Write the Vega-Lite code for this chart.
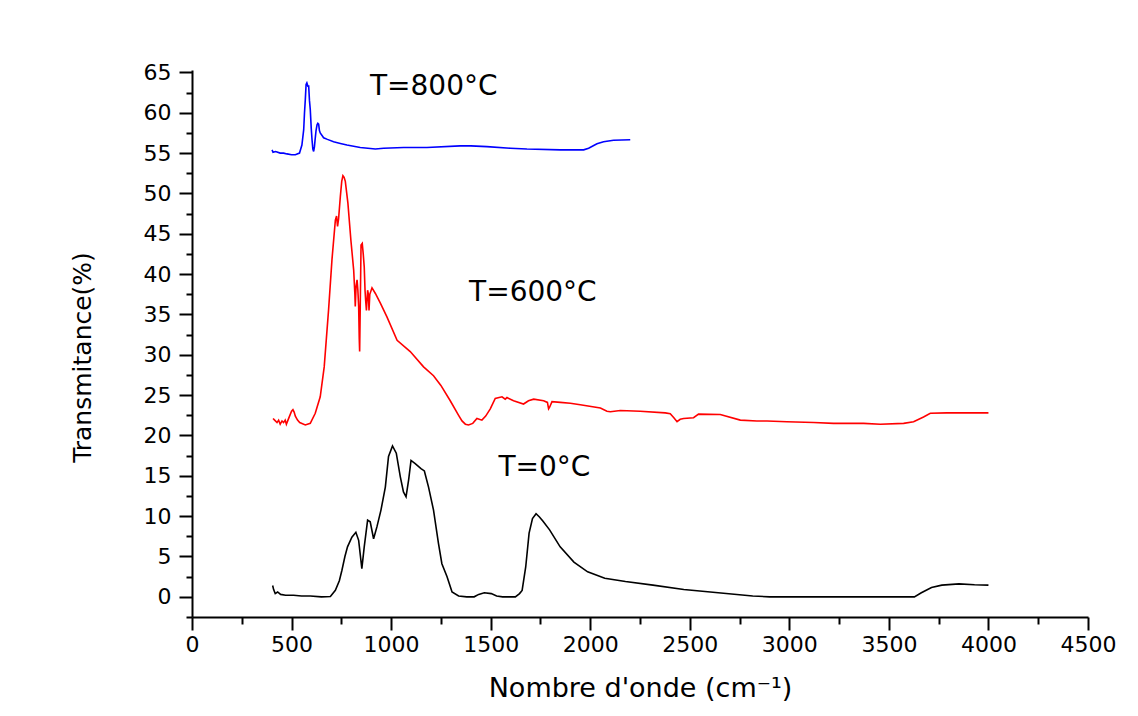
{
  "$schema": "https://vega.github.io/schema/vega-lite/v6.json",
  "width": 896,
  "height": 547,
  "autosize": "none",
  "padding": {"left": 192, "top": 70, "right": 50, "bottom": 99},
  "background": "white",
  "config": {
    "view": {"stroke": null},
    "font": "DejaVu Sans",
    "axis": {
      "domainColor": "black", "domainWidth": 2, "tickColor": "black", "tickWidth": 2,
      "labelColor": "black", "titleColor": "black", "grid": false,
      "labelFont": "DejaVu Sans", "titleFont": "DejaVu Sans", "titleFontWeight": "normal"
    }
  },
  "datasets": {
    "spectra": [
      {"T":"0","x":405,"y":1.4},{"T":"0","x":410,"y":0.9},{"T":"0","x":418,"y":0.4},{"T":"0","x":430,"y":0.6},{"T":"0","x":445,"y":0.3},{"T":"0","x":470,"y":0.2},{"T":"0","x":510,"y":0.2},{"T":"0","x":550,"y":0.1},{"T":"0","x":594,"y":0.1},{"T":"0","x":650,"y":0.0},{"T":"0","x":695,"y":0.05},{"T":"0","x":720,"y":0.8},{"T":"0","x":740,"y":2.0},{"T":"0","x":753,"y":3.3},{"T":"0","x":768,"y":5.0},{"T":"0","x":781,"y":6.2},{"T":"0","x":803,"y":7.4},{"T":"0","x":823,"y":8.0},{"T":"0","x":837,"y":7.0},{"T":"0","x":853,"y":3.5},{"T":"0","x":865,"y":6.2},{"T":"0","x":882,"y":9.5},{"T":"0","x":895,"y":9.3},{"T":"0","x":912,"y":7.2},{"T":"0","x":929,"y":8.7},{"T":"0","x":949,"y":10.75},{"T":"0","x":971,"y":13.6},{"T":"0","x":987,"y":17.4},{"T":"0","x":1007,"y":18.7},{"T":"0","x":1026,"y":17.8},{"T":"0","x":1046,"y":14.9},{"T":"0","x":1062,"y":13.0},{"T":"0","x":1075,"y":12.4},{"T":"0","x":1088,"y":14.5},{"T":"0","x":1100,"y":16.9},{"T":"0","x":1121,"y":16.5},{"T":"0","x":1150,"y":15.9},{"T":"0","x":1167,"y":15.6},{"T":"0","x":1188,"y":13.6},{"T":"0","x":1213,"y":10.75},{"T":"0","x":1238,"y":6.6},{"T":"0","x":1255,"y":4.1},{"T":"0","x":1281,"y":2.5},{"T":"0","x":1306,"y":0.6},{"T":"0","x":1339,"y":0.1},{"T":"0","x":1380,"y":0},{"T":"0","x":1417,"y":0},{"T":"0","x":1440,"y":0.3},{"T":"0","x":1468,"y":0.5},{"T":"0","x":1503,"y":0.4},{"T":"0","x":1530,"y":0.1},{"T":"0","x":1560,"y":0},{"T":"0","x":1624,"y":0},{"T":"0","x":1645,"y":0.4},{"T":"0","x":1658,"y":0.8},{"T":"0","x":1676,"y":3.7},{"T":"0","x":1693,"y":7.9},{"T":"0","x":1710,"y":9.7},{"T":"0","x":1728,"y":10.3},{"T":"0","x":1745,"y":9.9},{"T":"0","x":1762,"y":9.4},{"T":"0","x":1796,"y":8.3},{"T":"0","x":1849,"y":6.2},{"T":"0","x":1918,"y":4.3},{"T":"0","x":1987,"y":3.1},{"T":"0","x":2073,"y":2.3},{"T":"0","x":2177,"y":1.9},{"T":"0","x":2315,"y":1.45},{"T":"0","x":2470,"y":0.9},{"T":"0","x":2643,"y":0.5},{"T":"0","x":2816,"y":0.1},{"T":"0","x":2902,"y":0},{"T":"0","x":3248,"y":0},{"T":"0","x":3593,"y":0},{"T":"0","x":3628,"y":0},{"T":"0","x":3663,"y":0.5},{"T":"0","x":3714,"y":1.15},{"T":"0","x":3766,"y":1.45},{"T":"0","x":3852,"y":1.6},{"T":"0","x":3930,"y":1.5},{"T":"0","x":4000,"y":1.45},

      {"T":"600","x":407,"y":22.1},{"T":"600","x":415,"y":21.9},{"T":"600","x":427,"y":21.6},{"T":"600","x":435,"y":21.9},{"T":"600","x":443,"y":21.4},{"T":"600","x":452,"y":21.8},{"T":"600","x":460,"y":21.6},{"T":"600","x":468,"y":21.9},{"T":"600","x":474,"y":21.4},{"T":"600","x":482,"y":21.9},{"T":"600","x":490,"y":22.4},{"T":"600","x":500,"y":23.0},{"T":"600","x":507,"y":23.2},{"T":"600","x":513,"y":22.9},{"T":"600","x":519,"y":22.4},{"T":"600","x":530,"y":21.9},{"T":"600","x":541,"y":21.6},{"T":"600","x":569,"y":21.3},{"T":"600","x":594,"y":21.5},{"T":"600","x":619,"y":22.75},{"T":"600","x":644,"y":24.8},{"T":"600","x":664,"y":28.5},{"T":"600","x":686,"y":35.6},{"T":"600","x":703,"y":41.8},{"T":"600","x":720,"y":46.7},{"T":"600","x":726,"y":47.2},{"T":"600","x":731,"y":45.9},{"T":"600","x":736,"y":46.8},{"T":"600","x":745,"y":49.6},{"T":"600","x":752,"y":51.5},{"T":"600","x":758,"y":52.2},{"T":"600","x":764,"y":52.0},{"T":"600","x":770,"y":51.5},{"T":"600","x":783,"y":48.8},{"T":"600","x":798,"y":44.2},{"T":"600","x":812,"y":40.5},{"T":"600","x":818,"y":37.5},{"T":"600","x":820,"y":36.0},{"T":"600","x":824,"y":38.5},{"T":"600","x":829,"y":39.3},{"T":"600","x":833,"y":38.0},{"T":"600","x":837,"y":36.0},{"T":"600","x":840,"y":32.0},{"T":"600","x":842,"y":30.4},{"T":"600","x":845,"y":36.0},{"T":"600","x":849,"y":43.6},{"T":"600","x":855,"y":43.8},{"T":"600","x":860,"y":42.5},{"T":"600","x":865,"y":40.9},{"T":"600","x":869,"y":38.0},{"T":"600","x":872,"y":36.8},{"T":"600","x":876,"y":35.5},{"T":"600","x":882,"y":38.0},{"T":"600","x":886,"y":37.5},{"T":"600","x":889,"y":35.5},{"T":"600","x":893,"y":37.5},{"T":"600","x":904,"y":38.3},{"T":"600","x":921,"y":37.6},{"T":"600","x":946,"y":36.4},{"T":"600","x":979,"y":34.7},{"T":"600","x":1030,"y":31.8},{"T":"600","x":1096,"y":30.4},{"T":"600","x":1163,"y":28.5},{"T":"600","x":1213,"y":27.4},{"T":"600","x":1250,"y":26.2},{"T":"600","x":1297,"y":24.3},{"T":"600","x":1339,"y":22.5},{"T":"600","x":1356,"y":21.8},{"T":"600","x":1373,"y":21.4},{"T":"600","x":1389,"y":21.3},{"T":"600","x":1410,"y":21.5},{"T":"600","x":1431,"y":22.1},{"T":"600","x":1456,"y":21.9},{"T":"600","x":1475,"y":22.4},{"T":"600","x":1498,"y":23.3},{"T":"600","x":1523,"y":24.6},{"T":"600","x":1557,"y":24.8},{"T":"600","x":1573,"y":24.5},{"T":"600","x":1582,"y":24.7},{"T":"600","x":1615,"y":24.3},{"T":"600","x":1665,"y":23.9},{"T":"600","x":1690,"y":24.3},{"T":"600","x":1716,"y":24.5},{"T":"600","x":1766,"y":24.3},{"T":"600","x":1785,"y":24.1},{"T":"600","x":1791,"y":23.3},{"T":"600","x":1796,"y":23.5},{"T":"600","x":1808,"y":24.2},{"T":"600","x":1850,"y":24.1},{"T":"600","x":1900,"y":24.0},{"T":"600","x":1950,"y":23.8},{"T":"600","x":2051,"y":23.4},{"T":"600","x":2084,"y":23.0},{"T":"600","x":2101,"y":22.95},{"T":"600","x":2151,"y":23.1},{"T":"600","x":2251,"y":23.0},{"T":"600","x":2377,"y":22.8},{"T":"600","x":2402,"y":22.7},{"T":"600","x":2420,"y":22.2},{"T":"600","x":2436,"y":21.7},{"T":"600","x":2452,"y":22.0},{"T":"600","x":2469,"y":22.1},{"T":"600","x":2519,"y":22.2},{"T":"600","x":2544,"y":22.65},{"T":"600","x":2653,"y":22.6},{"T":"600","x":2754,"y":21.9},{"T":"600","x":2837,"y":21.8},{"T":"600","x":2888,"y":21.8},{"T":"600","x":2988,"y":21.7},{"T":"600","x":3122,"y":21.6},{"T":"600","x":3222,"y":21.5},{"T":"600","x":3373,"y":21.5},{"T":"600","x":3457,"y":21.4},{"T":"600","x":3574,"y":21.5},{"T":"600","x":3624,"y":21.7},{"T":"600","x":3674,"y":22.3},{"T":"600","x":3708,"y":22.75},{"T":"600","x":3791,"y":22.8},{"T":"600","x":3900,"y":22.8},{"T":"600","x":4000,"y":22.8},

      {"T":"800","x":402,"y":55.4},{"T":"800","x":407,"y":55.1},{"T":"800","x":420,"y":55.2},{"T":"800","x":443,"y":55.0},{"T":"800","x":460,"y":55.0},{"T":"800","x":477,"y":54.9},{"T":"800","x":500,"y":54.8},{"T":"800","x":519,"y":54.8},{"T":"800","x":540,"y":55.0},{"T":"800","x":552,"y":56.0},{"T":"800","x":561,"y":57.9},{"T":"800","x":565,"y":60.0},{"T":"800","x":569,"y":61.6},{"T":"800","x":573,"y":63.5},{"T":"800","x":577,"y":63.7},{"T":"800","x":582,"y":63.3},{"T":"800","x":586,"y":63.3},{"T":"800","x":590,"y":61.5},{"T":"800","x":594,"y":60.4},{"T":"800","x":599,"y":58.0},{"T":"800","x":603,"y":56.6},{"T":"800","x":607,"y":55.5},{"T":"800","x":611,"y":55.2},{"T":"800","x":615,"y":55.8},{"T":"800","x":618,"y":56.6},{"T":"800","x":623,"y":57.8},{"T":"800","x":628,"y":58.5},{"T":"800","x":632,"y":58.7},{"T":"800","x":636,"y":58.6},{"T":"800","x":640,"y":57.8},{"T":"800","x":644,"y":57.5},{"T":"800","x":661,"y":56.9},{"T":"800","x":680,"y":56.7},{"T":"800","x":711,"y":56.4},{"T":"800","x":745,"y":56.2},{"T":"800","x":778,"y":56.0},{"T":"800","x":845,"y":55.7},{"T":"800","x":921,"y":55.5},{"T":"800","x":962,"y":55.6},{"T":"800","x":1063,"y":55.7},{"T":"800","x":1180,"y":55.7},{"T":"800","x":1347,"y":55.9},{"T":"800","x":1400,"y":55.9},{"T":"800","x":1481,"y":55.8},{"T":"800","x":1599,"y":55.6},{"T":"800","x":1682,"y":55.5},{"T":"800","x":1850,"y":55.4},{"T":"800","x":1967,"y":55.4},{"T":"800","x":1992,"y":55.6},{"T":"800","x":2034,"y":56.15},{"T":"800","x":2067,"y":56.4},{"T":"800","x":2117,"y":56.6},{"T":"800","x":2201,"y":56.65}
    ],
    "labels": [
      {"x":1214,"y":63.2,"label":"T=800°C"},
      {"x":1712,"y":37.6,"label":"T=600°C"},
      {"x":1770,"y":16.0,"label":"T=0°C"}
    ]
  },
  "layer": [
    {
      "data": {"name": "spectra"},
      "mark": {"type": "line", "strokeWidth": 1.6, "interpolate": "linear"},
      "encoding": {
        "x": {"field": "x", "type": "quantitative",
          "scale": {"domain": [0, 4500], "nice": false, "zero": false},
          "axis": {"orient": "bottom", "values": [0,500,1000,1500,2000,2500,3000,3500,4000,4500], "format": "d",
            "tickSize": 13, "labelFontSize": 22, "labelPadding": 4, "labelFlush": false, "labelOverlap": false,
            "title": "Nombre d'onde (cm⁻¹)", "titleFontSize": 27, "titlePadding": 20}},
        "y": {"field": "y", "type": "quantitative",
          "scale": {"domain": [-2.5, 65.3], "nice": false, "zero": false},
          "axis": {"orient": "left", "values": [0,5,10,15,20,25,30,35,40,45,50,55,60,65], "format": "d",
            "tickSize": 13, "labelFontSize": 22, "labelPadding": 8, "labelFlush": false, "labelOverlap": false,
            "title": "Transmitance(%)", "titleFontSize": 25, "titlePadding": 48, "titleY": 287}},
        "color": {"field": "T", "type": "nominal",
          "scale": {"domain": ["0", "600", "800"], "range": ["#000000", "#ff0000", "#0000ff"]},
          "legend": null},
        "detail": {"field": "T"}
      }
    },
    {
      "data": {"name": "spectra"},
      "mark": {"type": "point", "opacity": 0},
      "encoding": {
        "x": {"field": "x", "type": "quantitative",
          "axis": {"orient": "bottom", "values": [250,750,1250,1750,2250,2750,3250,3750,4250],
            "tickSize": 7, "labels": false, "domain": false, "title": null}},
        "y": {"field": "y", "type": "quantitative",
          "axis": {"orient": "left", "values": [-2.5,2.5,7.5,12.5,17.5,22.5,27.5,32.5,37.5,42.5,47.5,52.5,57.5,62.5],
            "tickSize": 6, "labels": false, "domain": false, "title": null}}
      }
    },
    {
      "data": {"name": "labels"},
      "mark": {"type": "text", "font": "DejaVu Sans", "fontSize": 28, "color": "black", "align": "center", "baseline": "middle"},
      "encoding": {
        "x": {"field": "x", "type": "quantitative", "axis": null},
        "y": {"field": "y", "type": "quantitative", "axis": null},
        "text": {"field": "label"}
      }
    }
  ],
  "resolve": {"axis": {"x": "independent", "y": "independent"}}
}
